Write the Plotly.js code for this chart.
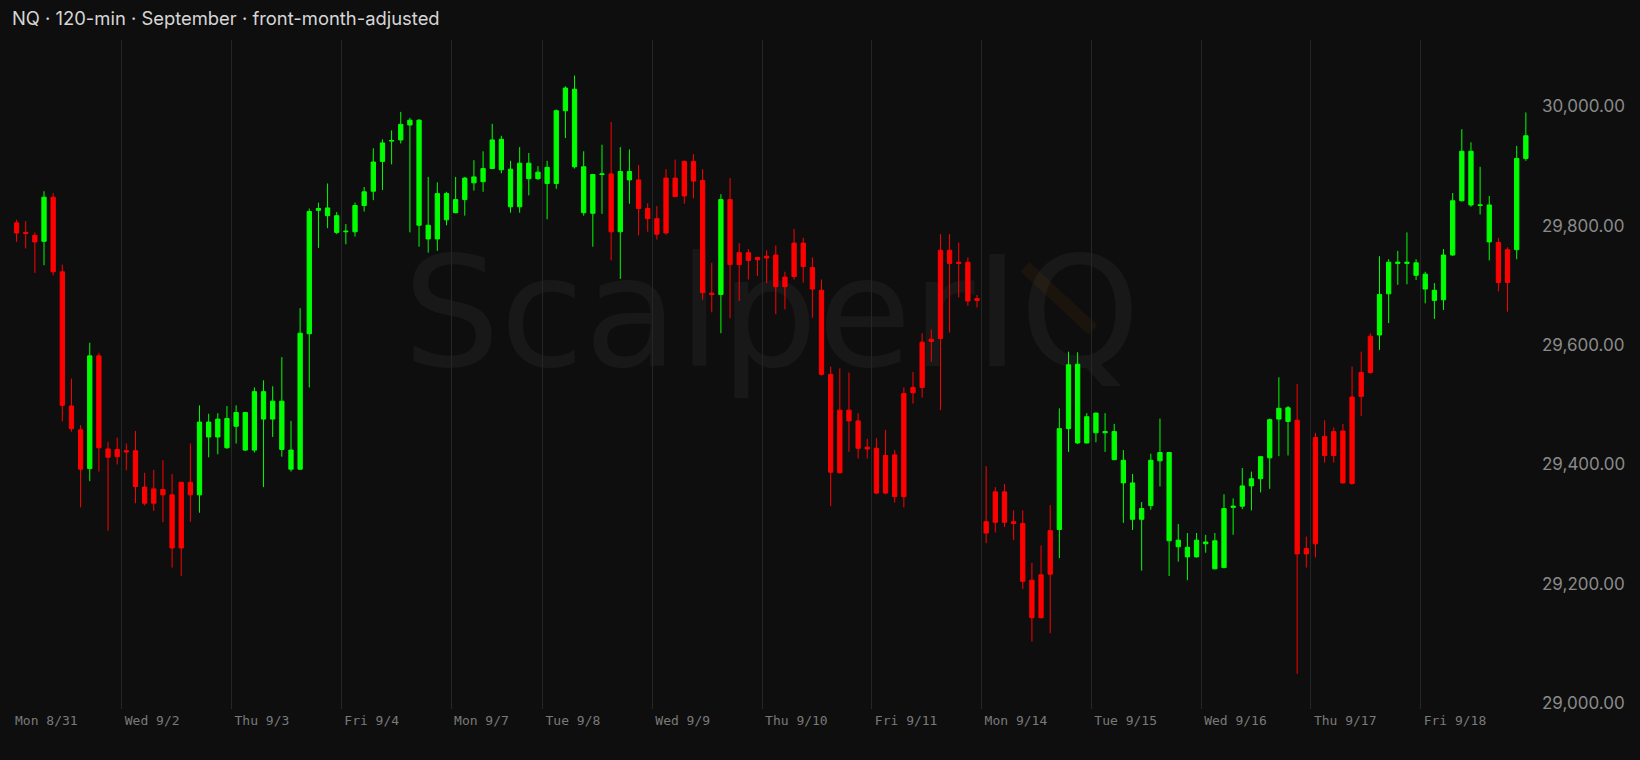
<!DOCTYPE html>
<html><head><meta charset="utf-8">
<script src="https://cdn.plot.ly/plotly-3.0.1.min.js"></script>
<style>html,body{margin:0;padding:0;background:#0e0e0e;}#chart{width:1640px;height:760px;}</style>
</head><body><div id="chart"></div>
<script>
const titleText = "NQ · 120-min · September · front-month-adjusted";
const sessionLabels = ["Mon 8/31","Wed 9/2","Thu 9/3","Fri 9/4","Mon 9/7","Tue 9/8","Wed 9/9","Thu 9/10","Fri 9/11","Mon 9/14","Tue 9/15","Wed 9/16","Thu 9/17","Fri 9/18"];
const sessionBars = [12,12,12,12,10,12,12,12,12,12,12,12,12,12];
const priceTicks = [29000,29200,29400,29600,29800,30000];

const openP = [
29805,29789,29784,29774,29848,29723,29498,29458,29393,29582,29426,29425,
29423,29423,29362,29359,29358,29349,29370,29370,29349,29446,29446,29428,
29464,29424,29424,29476,29476,29425,29392,29392,29619,29826,29817,29789,
29790,29790,29834,29858,29908,29942,29944,29969,29801,29778,29778,29810,
29822,29844,29872,29874,29896,29894,29832,29832,29879,29879,
29871,29871,29993,29899,29822,29821,29886,29887,29790,29877,29877,29829,
29812,29880,29880,29908,29908,29876,29687,29685,29844,29755,29755,29747,
29749,29751,29714,29771,29771,29730,29692,29551,29491,29491,29473,29429,
29427,29415,29416,29519,29529,29605,29610,29759,29759,29739,29739,29678,
29304,29354,29354,29304,29301,29206,29215,29289,29291,29460,29436,29436,
29453,29453,29408,29369,29308,29308,29331,29406,29272,29262,29245,29245,
29267,29225,29227,29328,29330,29364,29376,29411,29476,29472,29474,29259,
29445,29447,29455,29456,29513,29554,29615,29617,29686,29737,29737,29717,
29694,29675,29676,29751,29842,29835,29834,29773,29772,29760,29760,29913];
const highP = [
29810,29808,29789,29858,29855,29735,29544,29466,29604,29587,29438,29445,
29435,29456,29386,29391,29407,29384,29371,29435,29499,29485,29486,29498,
29499,29488,29529,29541,29531,29580,29473,29662,29829,29839,29871,29823,
29803,29839,29865,29930,29945,29960,29991,29981,29979,29882,29873,29857,
29882,29882,29910,29925,29971,29951,29909,29932,29922,29900,
29909,29995,30034,30052,29925,29887,29936,29974,29932,29928,29902,29838,
29833,29895,29911,29909,29920,29895,29738,29853,29880,29771,29761,29748,
29759,29767,29723,29795,29780,29747,29710,29564,29561,29554,29486,29443,
29444,29458,29424,29529,29555,29620,29626,29786,29786,29772,29747,29684,
29397,29362,29367,29323,29323,29235,29264,29332,29494,29589,29588,29486,
29487,29486,29468,29424,29384,29337,29418,29477,29421,29300,29285,29285,
29282,29285,29350,29343,29394,29388,29414,29477,29546,29498,29535,29279,
29453,29474,29462,29468,29564,29589,29620,29749,29744,29758,29789,29744,
29723,29704,29761,29855,29962,29940,29899,29850,29780,29764,29934,29990];
const lowP = [
29773,29762,29721,29734,29717,29472,29455,29328,29372,29388,29289,29400,
29390,29335,29331,29322,29303,29227,29213,29304,29319,29412,29417,29426,
29435,29423,29420,29362,29446,29413,29388,29391,29529,29763,29796,29786,
29769,29782,29824,29843,29860,29903,29938,29789,29765,29755,29758,29801,
29821,29817,29859,29857,29895,29888,29822,29822,29851,29877,
29811,29862,29947,29896,29817,29765,29820,29742,29711,29837,29784,29790,
29777,29785,29848,29837,29846,29676,29655,29620,29645,29674,29710,29716,
29704,29652,29660,29710,29705,29646,29549,29330,29385,29421,29410,29410,
29350,29350,29336,29328,29502,29512,29572,29491,29621,29680,29666,29663,
29268,29286,29295,29273,29191,29103,29142,29117,29243,29421,29434,29435,
29437,29421,29407,29302,29290,29222,29324,29363,29213,29237,29206,29244,
29252,29224,29226,29282,29325,29323,29353,29359,29414,29415,29049,29227,
29244,29403,29403,29368,29366,29481,29552,29592,29637,29701,29702,29709,
29670,29644,29659,29750,29841,29832,29819,29742,29690,29656,29744,29909];
const closeP = [
29788,29787,29773,29848,29723,29499,29460,29392,29582,29428,29412,29413,
29421,29363,29335,29335,29349,29260,29260,29349,29471,29471,29476,29477,
29487,29487,29522,29522,29506,29506,29424,29620,29824,29829,29830,29817,
29791,29834,29857,29907,29939,29943,29970,29977,29977,29801,29854,29854,
29844,29880,29882,29896,29944,29945,29895,29905,29905,29890,
29898,29993,30031,30029,29899,29886,29887,29790,29891,29891,29829,29812,
29786,29788,29849,29850,29875,29688,29685,29844,29735,29735,29742,29743,
29746,29698,29698,29715,29732,29694,29551,29387,29386,29473,29427,29426,
29352,29352,29346,29346,29520,29529,29606,29611,29737,29737,29674,29675,
29285,29303,29303,29301,29204,29143,29143,29216,29460,29567,29568,29480,
29486,29455,29455,29407,29369,29326,29407,29420,29420,29273,29261,29273,
29270,29272,29326,29330,29364,29376,29413,29475,29494,29495,29250,29250,
29267,29415,29415,29369,29368,29514,29554,29685,29739,29739,29739,29738,
29719,29692,29751,29842,29925,29925,29835,29835,29705,29705,29913,29951];

const barIndex = openP.map((_, i) => i);
const sessionStarts = [];
let acc = 0;
sessionBars.forEach(n => { sessionStarts.push(acc - 0.5); acc += n; });

const trace = {
  type: 'candlestick',
  x: barIndex, open: openP, high: highP, low: lowP, close: closeP,
  increasing: {line: {color: '#00ff00', width: 1}, fillcolor: '#00ff00'},
  decreasing: {line: {color: '#ff0000', width: 1}, fillcolor: '#ff0000'},
  whiskerwidth: 0,
  hoverinfo: 'skip'
};

const layout = {
  width: 1640, height: 760,
  paper_bgcolor: '#0e0e0e', plot_bgcolor: '#0e0e0e',
  margin: {l: 12, r: 105, t: 40, b: 51},
  showlegend: false,
  boxgap: 0.33,
  title: {text: titleText, x: 12/1640, xref: 'container', xanchor: 'left',
          y: 1 - 19/760, yref: 'container', yanchor: 'middle',
          font: {family: 'Inter, sans-serif', size: 18.4, color: '#d6d6d6'}},
  xaxis: {
    type: 'linear', range: [-0.5, 166], rangeslider: {visible: false},
    tickmode: 'array', tickvals: sessionStarts, ticktext: sessionLabels,
    ticklabelposition: 'outside right', ticklabelshift: 3, ticklabelstandoff: 2,
    showgrid: true, gridcolor: '#262626', gridwidth: 1,
    zeroline: false, showline: false, ticks: '',
    tickfont: {family: 'DejaVu Sans Mono, monospace', size: 13, color: '#7a7a7a'}
  },
  yaxis: {
    side: 'right', range: [28990, 30111.5],
    tickmode: 'array', tickvals: priceTicks, tickformat: ',.2f',
    ticklabelstandoff: 6,
    showgrid: false, zeroline: false, showline: false, ticks: '',
    tickfont: {family: 'Inter, sans-serif', size: 17, color: '#8a8a8a'}
  },
  shapes: [
    {type: 'rect', xref: 'paper', yref: 'paper', x0: 0.4487, x1: 0.5487, y0: 0.5584, y1: 0.6584,
     line: {width: 0}, fillcolor: 'rgba(0,0,0,0)', layer: 'below',
     label: {text: 'ScalperIQ', textposition: 'middle center',
             font: {family: 'DejaVu Sans, sans-serif', size: 153, color: 'rgba(255,255,255,0.045)'}}},
    {type: 'line', xref: 'paper', yref: 'paper', x0: 0.6651, y0: 0.6611, x1: 0.7098, y1: 0.5665,
     line: {color: 'rgba(255,140,0,0.05)', width: 13}, layer: 'below'}
  ]
};

Plotly.newPlot('chart', [trace], layout, {displayModeBar: false, staticPlot: true});
</script>
</body></html>
